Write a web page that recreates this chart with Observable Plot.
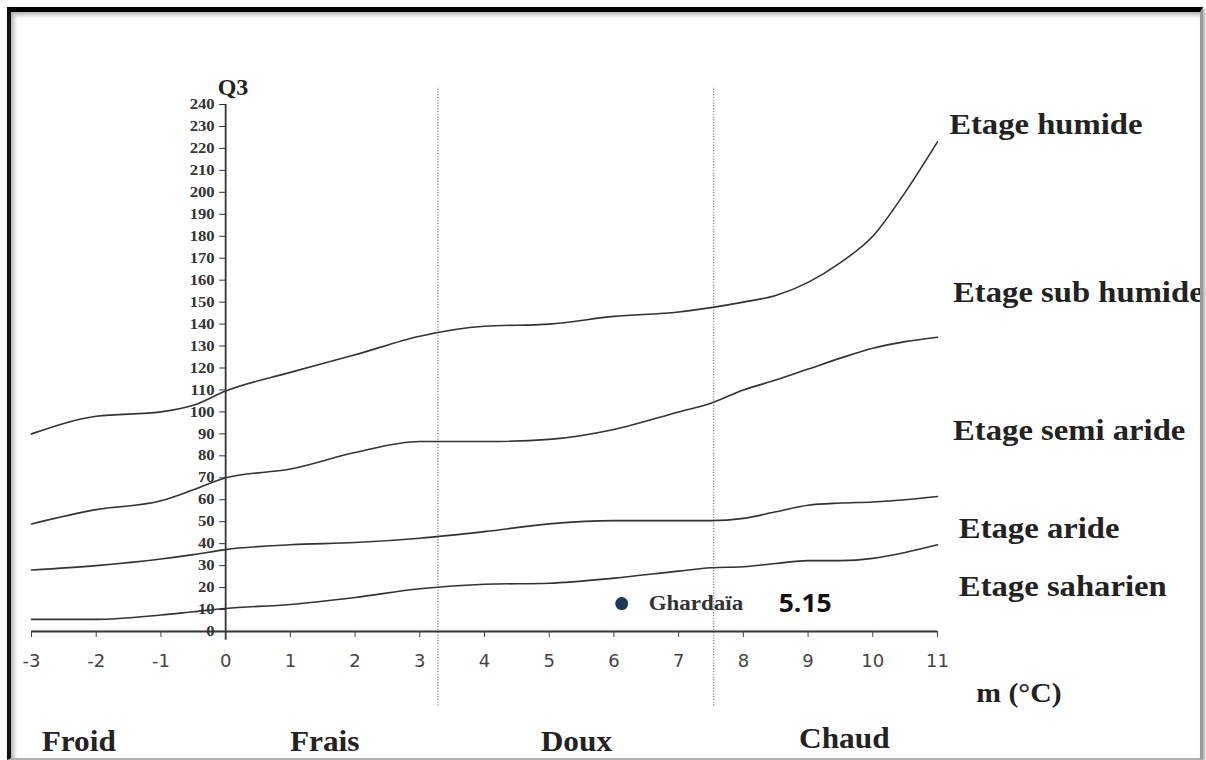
<!DOCTYPE html>
<html><head><meta charset="utf-8">
<script src="https://cdn.jsdelivr.net/npm/d3@7"></script>
<script src="https://cdn.jsdelivr.net/npm/@observablehq/plot@0.6"></script>
<style>
html,body{margin:0;padding:0;background:#fff;}
#wrap{position:relative;width:1206px;height:760px;overflow:hidden;background:#fff;}
#frame{position:absolute;left:7px;top:7px;width:1189px;height:746px;border-top:5px solid #000;border-left:4px solid #111;border-right:3px solid #9a9a9a;border-bottom:2px solid #b0b0b0;box-shadow:inset 3px 3px 4px rgba(0,0,0,0.3), 2px 2px 4px rgba(0,0,0,0.35);pointer-events:none;}
#wrap svg{position:absolute;left:0;top:0;}
</style></head><body><div id="wrap"><div id="frame"></div></div>
<script>
// ---- data ----
const mValues = [-3,-2,-1,-0.5,0,1,2,3,4,5,6,7,7.5,8,8.5,9,9.5,10,10.5,11];
const limitHumide    = [90,98,100,103,109.5,118,126,134.5,139,140,143.5,145.5,147.5,150,153,159,168,180,200,223];
const limitSubHumide = [49,55.5,59.5,64.5,70,74,81.5,86.5,86.5,87.5,92,100,104,110,114.5,119.5,124.5,129,132,134];
const limitSemiAride = [28,30,33,35,37.3,39.5,40.5,42.5,45.5,49,50.5,50.5,50.5,51.5,54.5,57.5,58.5,59,60,61.5];
const limitAride     = [5.5,5.5,7.5,9,10.5,12.3,15.5,19.5,21.5,22,24.3,27.5,29,29.5,31,32.3,32.3,33.3,36,39.5];

const xTicks = [-3,-2,-1,0,1,2,3,4,5,6,7,8,9,10,11];
const yTicks = d3.range(0, 241, 10);

const zoneLabels = ["Etage humide","Etage sub humide","Etage semi aride","Etage aride","Etage saharien"];
const zoneLabelM = [11.18,11.24,11.24,11.33,11.33];
const zoneLabelQ = [231,154.5,91.5,47,20.5];

const classLabels = ["Froid","Frais","Doux","Chaud"];
const classM = [-2.27,1.53,5.42,9.56];
const classQ = [-50.3,-50.3,-50.3,-48.8];

const thresholdsM = [3.28, 7.54];
const thresholdQ1 = -34, thresholdQ2 = 248;

const stationName = "Ghardaïa";
const stationM = 6.12;
const stationQ = 12.7;
const stationValue = "5.15";
const xTitle = "m (°C)";
const yTitle = "Q3";

// ---- build tables ----
const series = [limitHumide, limitSubHumide, limitSemiAride, limitAride];
const rows = series.flatMap((s, i) => s.map((q, j) => ({m: mValues[j], q, s: i})));
const zones = zoneLabels.map((t, i) => ({t, m: zoneLabelM[i], q: zoneLabelQ[i]}));
const classes = classLabels.map((t, i) => ({t, m: classM[i], q: classQ[i]}));
const station = [{name: stationName, m: stationM, q: stationQ, v: stationValue}];

const W = 1206, H = 760;
const mL = 31, mR = 269, mT = 104, mB = 129;
const xDom = [-3, 11], yDom = [0, 240];
const x0px = mL + (0 - xDom[0]) / (xDom[1] - xDom[0]) * (W - mL - mR);
const serif = "Liberation Serif, Times New Roman, serif";

const chart = Plot.plot({
  width: W, height: H,
  marginLeft: mL, marginRight: mR, marginTop: mT, marginBottom: mB,
  x: {domain: xDom, axis: null},
  y: {domain: yDom, axis: null},
  style: {background: "transparent", overflow: "visible"},
  marks: [
    Plot.ruleX(thresholdsM, {y1: thresholdQ1, y2: thresholdQ2, stroke: "#8a8a8a", strokeWidth: 1.4, strokeDasharray: "1.2,1.6"}),
    Plot.ruleY([0], {x1: xDom[0], x2: xDom[1], stroke: "#333", strokeWidth: 1.8}),
    Plot.ruleX([0], {y1: -4, y2: 240, stroke: "#333", strokeWidth: 1.8}),
    Plot.axisX({ticks: xTicks, anchor: "bottom", tickSize: 6, tickPadding: 17, fontSize: 18, fontFamily: "DejaVu Sans, Verdana, sans-serif", color: "#444", label: null, tickFormat: d => String(d)}),
    Plot.axisY({ticks: yTicks, anchor: "left", dx: x0px - mL, tickSize: 6, tickPadding: 5, fontSize: 14.5, fontFamily: serif, fontWeight: "bold", color: "#333", label: null}),
    Plot.line(rows, {x: "m", y: "q", z: "s", curve: "monotone-x", stroke: "#333", strokeWidth: 1.6}),
    Plot.dot(station, {x: "m", y: "q", r: 6.5, fill: "#1d3a5c", stroke: "none"}),
    Plot.text(station, {x: "m", y: "q", text: "name", dx: 27, textAnchor: "start", fontSize: 20, fontWeight: "bold", fontFamily: serif, fill: "#333"}),
    Plot.text(station, {x: "m", y: "q", text: "v", dx: 157, textAnchor: "start", fontSize: 25, fontWeight: "bold", fontFamily: "Open Sans, sans-serif", fill: "#111"}),
    Plot.text(zones, {x: "m", y: "q", text: "t", textAnchor: "start", fontSize: 30, fontWeight: "bold", fontFamily: serif, fill: "#222"}),
    Plot.text(classes, {x: "m", y: "q", text: "t", fontSize: 29, fontWeight: "bold", fontFamily: serif, fill: "#222"}),
    Plot.text([yTitle], {x: 0, y: 248, text: d => d, dx: -8, textAnchor: "start", fontSize: 24, fontWeight: "bold", fontFamily: serif, fill: "#222"}),
    Plot.text([xTitle], {x: 11.6, y: -28, text: d => d, textAnchor: "start", fontSize: 27, fontWeight: "bold", fontFamily: serif, fill: "#222"})
  ]
});
// the reference's lettering is horizontally stretched: widen each text about its anchor
const stretchFor = (t) => {
  const s = t.textContent;
  const ax = t.closest('g[aria-label*="y-axis"]');
  if (ax) return 1.15;
  if (zoneLabels.includes(s)) return 1.09;
  if (classLabels.includes(s)) return 1.08;
  if (s === stationName) return 1.15;
  if (s === stationValue) return 1.06;
  if (s === xTitle) return 1.1;
  return 1;
};
chart.querySelectorAll("text").forEach(t => {
  const sx = stretchFor(t);
  if (sx !== 1) {
    const tr = t.getAttribute("transform") || "";
    t.setAttribute("transform", `${tr} scale(${sx},1)`.trim());
  }
});
document.getElementById("wrap").prepend(chart);
</script>
</body></html>
